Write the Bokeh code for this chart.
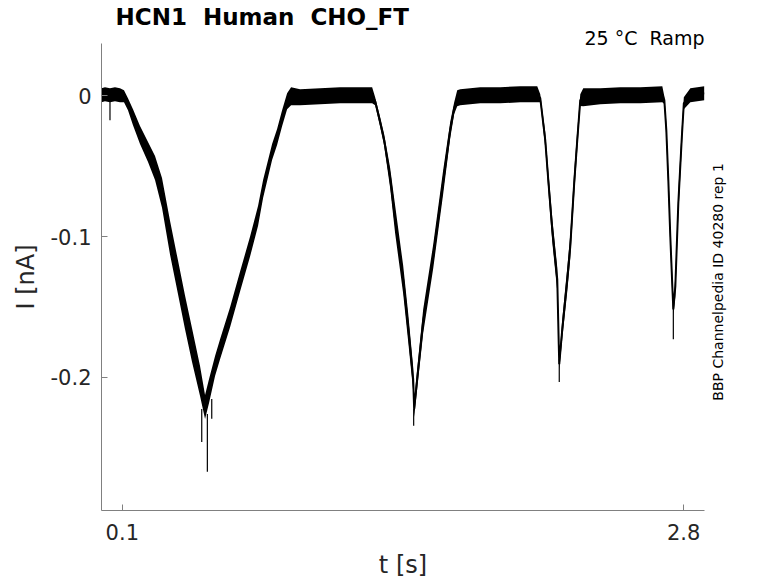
import numpy as np
from bokeh.plotting import figure
from bokeh.models import Range1d, FixedTicker, LinearAxis, Title, ColumnDataSource
from bokeh.embed import file_html
from bokeh.resources import INLINE

# trace: time [s], mean current [nA], half width of the noisy band [nA]
t_s = [0.0, 0.0167, 0.0408, 0.0649, 0.0889, 0.1082,
       0.1274, 0.1515, 0.1852, 0.2237, 0.2574, 0.2910, 0.3295, 0.3680, 0.4017, 0.4354, 0.4739, 0.4980,
       0.5172, 0.5461, 0.5702, 0.6183, 0.6664, 0.7145, 0.7530, 0.7771, 0.8204, 0.8444, 0.8685, 0.8926, 0.9118,
       0.9551, 1.0514, 1.1476, 1.2439, 1.3016,
       1.3161, 1.3401, 1.3594, 1.3882, 1.4123, 1.4508, 1.4749, 1.4989, 1.5037,
       1.5182, 1.5470, 1.5952, 1.6433, 1.6770, 1.6962, 1.7107,
       1.7251, 1.8214, 1.9176, 2.0138, 2.0956,
       2.1101, 2.1341, 2.1486, 2.1678, 2.1919, 2.1991, 2.2015,
       2.2159, 2.2400, 2.2544, 2.2737, 2.2881, 2.3026,
       2.3170, 2.3988, 2.4950, 2.5913, 2.6971,
       2.7068, 2.7164, 2.7260, 2.7356, 2.7453, 2.7501,
       2.7597, 2.7742, 2.7910, 2.8006, 2.8319, 2.8656, 2.8993]
i_mid = [0.0005, 0.0012, 0.0005, 0.0012, 0.0005, -0.0002,
         -0.0059, -0.0151, -0.0278, -0.0399, -0.0512, -0.0689, -0.1008, -0.1291, -0.1539, -0.1772, -0.2027, -0.2212,
         -0.2098, -0.1921, -0.1801, -0.1574, -0.1320, -0.1071, -0.0852, -0.0661, -0.0399, -0.0292, -0.0158, -0.0038, -0.0002,
         -0.0009, -0.0002, 0.0005, 0.0005, 0.0005,
         -0.0038, -0.0186, -0.0314, -0.0583, -0.0880, -0.1305, -0.1645, -0.2013, -0.2226,
         -0.2013, -0.1603, -0.1142, -0.0611, -0.0243, -0.0087, -0.0016,
         -0.0009, 0.0005, 0.0005, 0.0012, 0.0012,
         -0.0016, -0.0314, -0.0597, -0.0951, -0.1305, -0.1765, -0.1907,
         -0.1659, -0.1305, -0.1071, -0.0611, -0.0314, -0.0030,
         -0.0009, -0.0002, 0.0005, 0.0005, 0.0012,
         -0.0030, -0.0243, -0.0597, -0.1001, -0.1355, -0.1518,
         -0.1355, -0.0760, -0.0292, -0.0052, 0.0005, 0.0012, 0.0019]
i_spread = [0.005, 0.005, 0.005, 0.005, 0.005, 0.0042,
            0.0042, 0.0057, 0.0064, 0.0071, 0.0085, 0.0106, 0.012, 0.012, 0.012, 0.012, 0.0106, 0.0085,
            0.0085, 0.0071, 0.0071, 0.0071, 0.0071, 0.0071, 0.0071, 0.0064, 0.0057, 0.0057, 0.0057, 0.0057, 0.0064,
            0.0057, 0.0057, 0.0057, 0.0057, 0.0057,
            0.0028, 0.0035, 0.0042, 0.0071, 0.0099, 0.0099, 0.0099, 0.0085, 0.0057,
            0.0071, 0.0085, 0.0085, 0.0085, 0.0057, 0.0042, 0.0057,
            0.0057, 0.0057, 0.0057, 0.0057, 0.0057,
            0.0028, 0.0057, 0.0071, 0.0085, 0.0085, 0.0071, 0.0042,
            0.0071, 0.0085, 0.0085, 0.0085, 0.0071, 0.0042,
            0.0064, 0.0057, 0.0057, 0.0057, 0.0057,
            0.0028, 0.0057, 0.0071, 0.0071, 0.0071, 0.0042,
            0.0071, 0.0085, 0.0071, 0.0042, 0.005, 0.005, 0.005]

# single-sweep spikes reaching below the band
spike_t = [0.0408, 0.4821, 0.5091, 0.5302, 1.5013, 2.2015, 2.7501]
spike_top = [0.0005, -0.2226, -0.2261, -0.2155, -0.2226, -0.1872, -0.1482]
spike_bot = [-0.0172, -0.2460, -0.2672, -0.2296, -0.2346, -0.2035, -0.1730]

x_ticks = [0.1, 2.8]
x_tick_labels = ["0.1", "2.8"]
y_ticks = [-0.2, -0.1, 0.0]
y_tick_labels = ["-0.2", "-0.1", "0"]

# double gaps kept with a no-break space (svg collapses plain runs of spaces)
title_text = "HCN1 \u00a0Human \u00a0CHO_FT"
cond_text = "25 °C \u00a0Ramp"
side_text = "BBP Channelpedia ID 40280 rep 1"
side_start = -0.2167  # current level where the vertical note begins (its lower end)

FONT = "DejaVu Sans"
TXT = "#262626"
AX = "#808080"

i_hi = [m + s for m, s in zip(i_mid, i_spread)]
i_lo = [m - s for m, s in zip(i_mid, i_spread)]
src = ColumnDataSource(dict(t=t_s, mid=i_mid, hi=i_hi, lo=i_lo))

p = figure(width=776, height=581, output_backend="svg", toolbar_location=None,
           x_range=Range1d(0.0, 2.9), y_range=Range1d(-0.2948, 0.0373),
           min_border_left=101, min_border_right=72, min_border_top=43, min_border_bottom=69)
p.outline_line_color = None
p.xgrid.visible = False
p.ygrid.visible = False
p.background_fill_color = "white"
p.border_fill_color = "white"

p.varea(x="t", y1="lo", y2="hi", source=src, fill_color="black")
p.line(x="t", y="mid", source=src, line_color="black", line_width=2)
p.segment(x0=spike_t, y0=spike_top, x1=spike_t, y1=spike_bot, line_color="black", line_width=1.2)

for ax in (p.xaxis, p.yaxis):
    ax.axis_line_color = AX
    ax.major_tick_line_color = AX
    ax.major_tick_in = 6
    ax.major_tick_out = 0
    ax.minor_tick_line_color = None
    ax.major_label_text_font = FONT
    ax.major_label_text_font_size = "21px"
    ax.major_label_text_color = TXT
    ax.axis_label_text_font = FONT
    ax.axis_label_text_font_size = "24px"
    ax.axis_label_text_font_style = "normal"
    ax.axis_label_text_color = TXT

p.xaxis.ticker = FixedTicker(ticks=x_ticks)
p.xaxis.major_label_overrides = dict(zip(x_ticks, x_tick_labels))
p.xaxis.major_label_standoff = 13
p.xaxis.axis_label = "t [s]"
p.xaxis.axis_label_standoff = 8

p.yaxis.ticker = FixedTicker(ticks=y_ticks)
p.yaxis.major_label_overrides = dict(zip(y_ticks, y_tick_labels))
p.yaxis.major_label_standoff = 10
p.yaxis.axis_label = "I [nA]"
p.yaxis.axis_label_standoff = 8

# vertical note on the right: one rotated tick label on a bare right axis
side = LinearAxis(ticker=FixedTicker(ticks=[side_start]), axis_line_color=None,
                  major_tick_line_color=None, minor_tick_line_color=None,
                  major_tick_in=0, major_tick_out=0, major_label_standoff=14,
                  major_label_overrides={side_start: side_text},
                  major_label_orientation=np.pi / 2,
                  major_label_text_font=FONT, major_label_text_font_size="14px",
                  major_label_text_color="black")
p.add_layout(side, "right")

# condition text sits right above the frame, title above that
p.add_layout(Title(text=cond_text, align="right", offset=0, standoff=-11.5,
                   text_font=FONT, text_font_size="19px", text_font_style="normal",
                   text_color="black"), "above")
p.title.text = title_text
p.title.align = "left"
p.title.offset = 14
p.title.standoff = 0.3
p.title.text_font = FONT
p.title.text_font_size = "23px"
p.title.text_font_style = "bold"
p.title.text_color = "black"

open("out.html", "w").write(file_html(p, INLINE))
